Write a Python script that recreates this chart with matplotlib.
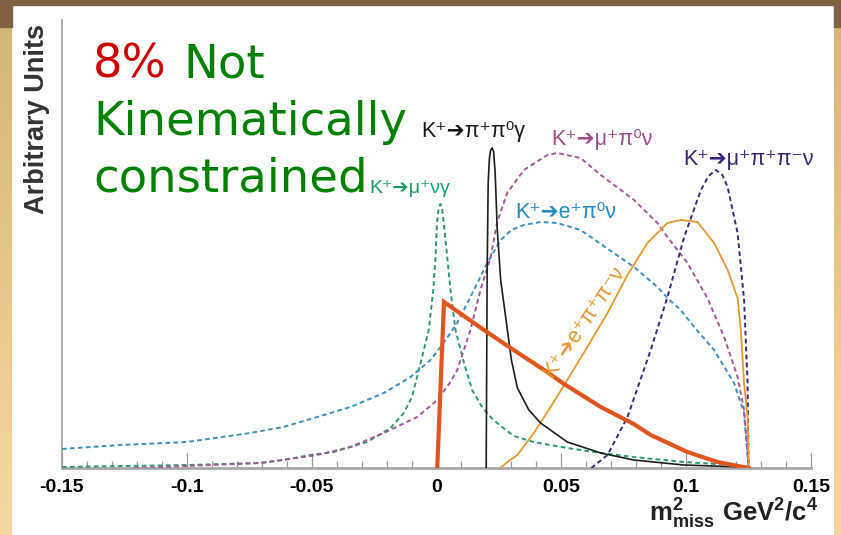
import numpy as np
import matplotlib
matplotlib.use("Agg")
import matplotlib.pyplot as plt
from matplotlib.patches import Rectangle
from matplotlib.ticker import MultipleLocator

plt.rcParams['mathtext.fontset'] = 'custom'
plt.rcParams['mathtext.rm'] = 'Liberation Sans'
plt.rcParams['mathtext.bf'] = 'Liberation Sans:bold'
plt.rcParams['mathtext.it'] = 'Liberation Sans:italic'

# ---------------- data (m2_miss in GeV^2/c^4, arbitrary units) ----------------
pipi0g_x = [0.0199, 0.0203, 0.0207, 0.0212, 0.0217, 0.0223, 0.0229, 0.0235, 0.0243, 0.0257,
            0.0277, 0.0300, 0.0324, 0.0370, 0.0417, 0.0524, 0.0658, 0.0790, 0.0990, 0.1190, 0.1250]
pipi0g_y = [0, 200, 285, 310, 318, 320, 316, 295, 240, 188,
            151, 108, 80, 58, 45, 26, 15, 8, 3, 1.3, 0]

munug_x = [-0.150, -0.125, -0.100, -0.0706, -0.0613, -0.0505, -0.0413, -0.0278, -0.0184, -0.0131,
           -0.0098, -0.0071, -0.0051, -0.0031, -0.0013, -0.0004, 0.0002, 0.0009, 0.0016, 0.0023,
           0.0029, 0.0043, 0.0056, 0.0076, 0.0110, 0.0143, 0.0180, 0.0220, 0.0257, 0.0310,
           0.0389, 0.0524, 0.0658, 0.0790, 0.0990, 0.1190, 0.1250]
munug_y = [1, 2, 3, 5, 8, 13, 16, 26, 40, 55,
           71, 98, 118, 138, 178, 211, 245, 260, 264, 258,
           245, 211, 178, 138, 105, 78, 62, 50, 42, 32,
           26, 20, 15, 11, 6, 3, 0]

epi0nu_x = [-0.150, -0.1267, -0.100, -0.0746, -0.0613, -0.0478, -0.0345, -0.0211, -0.0104, -0.0024,
            0.0016, 0.0056, 0.0083, 0.0150, 0.0203, 0.0257, 0.0300, 0.0350, 0.0417, 0.0484,
            0.0577, 0.0658, 0.0791, 0.0885, 0.0925, 0.0978, 0.1032, 0.1112, 0.1192, 0.1232, 0.1250]
epi0nu_y = [19, 23, 26, 35, 41, 51, 61, 75, 91, 108,
            121, 135, 145, 178, 205, 228, 238, 243, 246, 245,
            238, 224, 201, 181, 170, 158, 141, 118, 85, 55, 0]

mupi0nu_x = [-0.121, -0.100, -0.0706, -0.0478, -0.0345, -0.0211, -0.0077, 0.0003, 0.0056, 0.0083,
             0.0136, 0.0176, 0.0217, 0.0243, 0.0283, 0.0350, 0.0444, 0.0484, 0.0577, 0.0658,
             0.0791, 0.0885, 0.0925, 0.1005, 0.1085, 0.1152, 0.1206, 0.1232, 0.1250]
mupi0nu_y = [0, 2, 5, 13, 21, 35, 51, 68, 86, 98,
             138, 178, 211, 246, 275, 298, 313, 315, 310, 293,
             268, 245, 231, 205, 170, 131, 91, 58, 0]

epipinu_x = [0.0255, 0.0290, 0.0324, 0.0390, 0.0457, 0.0524, 0.0604, 0.0685, 0.0765, 0.0845,
             0.0925, 0.0978, 0.1045, 0.1112, 0.1166, 0.1206, 0.1219, 0.1232, 0.1246, 0.1250]
epipinu_y = [0, 7, 13, 35, 61, 88, 121, 155, 193, 225,
             245, 248, 246, 225, 198, 170, 138, 85, 51, 0]

mupipinu_x = [0.0620, 0.0685, 0.0765, 0.0858, 0.0925, 0.0992, 0.1059, 0.1090, 0.1119, 0.1145,
              0.1166, 0.1206, 0.1232, 0.1246, 0.1250]
mupipinu_y = [0, 13, 51, 118, 171, 231, 278, 292, 298, 293,
              281, 235, 168, 85, 0]

notkin_x = [0.0003, 0.0030, 0.0190, 0.0297, 0.0431, 0.0511, 0.0658, 0.0790, 0.0858, 0.1005, 0.1125, 0.1250]
notkin_y = [0, 166, 138, 120, 98, 84, 61, 44, 33, 16, 6, 0]

xticks = [-0.15, -0.1, -0.05, 0, 0.05, 0.1, 0.15]
xtick_labels = ['-0.15', '-0.1', '-0.05', '0', '0.05', '0.1', '0.15']

# ---------------- figure ----------------
W, H = 841, 535
fig = plt.figure(figsize=(W / 100, H / 100), dpi=100)
fig.patch.set_facecolor('white')

# slide frame (decoration)
bg = fig.add_axes([0, 0, 1, 1], zorder=-10)
bg.set_xlim(0, W)
bg.set_ylim(H, 0)
bg.axis('off')
grad = np.linspace(np.array([0.835, 0.714, 0.463]), np.array([0.973, 0.847, 0.627]), 200)[:, None, :]
bg.imshow(grad, extent=[0, 12, H, 27], aspect='auto', zorder=0)
bg.imshow(grad, extent=[834, W, H, 27], aspect='auto', zorder=0)
bg.add_patch(Rectangle((0, 0), 12, 27, color='#7f6242', zorder=1))
bg.add_patch(Rectangle((834, 0), 7, 27, color='#7f6242', zorder=1))
bg.add_patch(Rectangle((0, 0), W, 5, color='#7f6242', zorder=1))

def fx(px):
    return px / W

def fy(py):
    return 1 - py / H

ax = fig.add_axes([fx(62), fy(468), fx(811) - fx(62), fy(20) - fy(468)])
ax.set_xlim(-0.15, 0.15)
ax.set_ylim(0, 448)
ax.set_facecolor('none')

dots = (0, (2.4, 1.7))
ax.plot(munug_x, munug_y, color='#2a9a72', lw=1.4, ls=dots, zorder=3)
ax.plot(epi0nu_x, epi0nu_y, color='#3a90c4', lw=1.4, ls=dots, zorder=3)
ax.plot(mupi0nu_x, mupi0nu_y, color='#a4579a', lw=1.4, ls=dots, zorder=3)
ax.plot(mupipinu_x, mupipinu_y, color='#3b2a7c', lw=1.4, ls=dots, zorder=3)
ax.plot(epipinu_x, epipinu_y, color='#e8982f', lw=1.3, zorder=4)
ax.plot(pipi0g_x, pipi0g_y, color='#1e1e1e', lw=1.2, zorder=5)
ax.plot(notkin_x, notkin_y, color='#e0561e', lw=3.0, zorder=6, solid_joinstyle='miter')

for s in ['top', 'right']:
    ax.spines[s].set_visible(False)
ax.spines['left'].set_color('#a0a0a0')
ax.spines['left'].set_linewidth(1.2)
ax.spines['bottom'].set_color('#a8a8a8')
ax.spines['bottom'].set_linewidth(2.0)
ax.set_yticks([])
ax.set_xticks(xticks)
ax.set_xticklabels(xtick_labels, fontfamily='Liberation Sans', fontweight='bold', fontsize=14)
ax.xaxis.set_minor_locator(MultipleLocator(0.01))
ax.tick_params(axis='x', which='major', direction='in', length=11, width=0.9, color='#999999', pad=8)
ax.tick_params(axis='x', which='minor', direction='in', length=5, width=0.9, color='#999999')

# axis titles
fig.text(fx(37), fy(24), 'Arbitrary Units', rotation=90, ha='center', va='top',
         fontfamily='Liberation Sans', fontweight='bold', fontsize=19.5, color='#333333')
fig.text(fx(818), fy(522), r'$\mathbf{m^{2}_{miss}}$ $\mathbf{GeV^{2}/c^{4}}$', ha='right', va='baseline',
         fontsize=18.5, color='#222222')

# curve labels
lab_font = ['Liberation Sans', 'DejaVu Sans']
fig.text(fx(421), fy(136.5), 'K⁺➔π⁺π⁰γ', ha='left', va='baseline', family=lab_font, fontsize=15.5, color='#1a1a1a')
fig.text(fx(551), fy(145), 'K⁺➔μ⁺π⁰ν', ha='left', va='baseline', family=lab_font, fontsize=15.5, color='#9a4f8c')
fig.text(fx(683), fy(165), 'K⁺➔μ⁺π⁺π⁻ν', ha='left', va='baseline', family=lab_font, fontsize=15.5, color='#3a2378')
fig.text(fx(515), fy(218), 'K⁺➔e⁺π⁰ν', ha='left', va='baseline', family=lab_font, fontsize=15.5, color='#2289c6')
fig.text(fx(369), fy(193), 'K⁺➔μ⁺νγ', ha='left', va='baseline', family=lab_font, fontsize=14, color='#1e9a66')
fig.text(fx(584), fy(322), 'K⁺➔e⁺π⁺π⁻ν', ha='center', va='center', rotation=56, rotation_mode='anchor',
         family=lab_font, fontsize=15.5, color='#e8952e')

# annotation
big = dict(family='DejaVu Sans', fontsize=33.5, va='baseline', ha='left')
fig.text(fx(93), fy(77), '8%', color='#cc0000', **big)
fig.text(fx(183), fy(77), 'Not', color='#008000', **big)
fig.text(fx(93), fy(135), 'Kinematically', color='#008000', **big)
fig.text(fx(93), fy(192), 'constrained', color='#008000', **big)

fig.savefig('out.png', dpi=100, facecolor=fig.get_facecolor())
